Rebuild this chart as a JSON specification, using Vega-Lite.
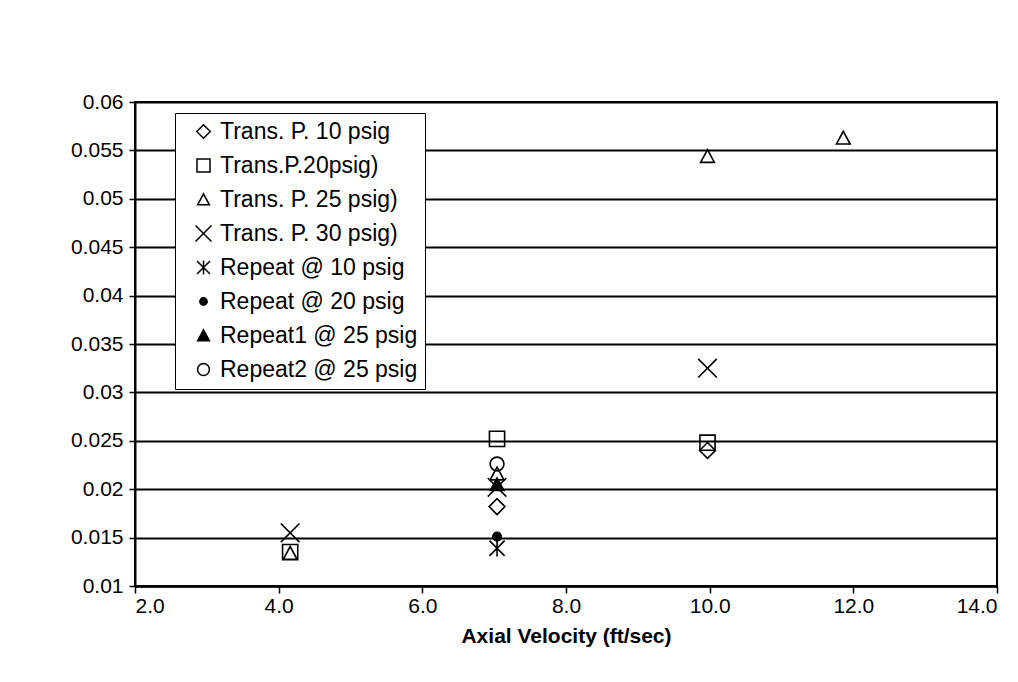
{
  "$schema": "https://vega.github.io/schema/vega-lite/v6.json",
  "width": 862,
  "height": 484,
  "autosize": "none",
  "padding": {"left": 135, "top": 102, "right": 21, "bottom": 96},
  "background": "white",
  "config": {
    "font": "Liberation Sans",
    "view": {"stroke": "black", "strokeWidth": 2}
  },
  "data": {
    "values": [
      {"v": 9.97, "f": 0.0240, "series": "Trans. P. 10 psig"},
      {"v": 7.04, "f": 0.0182, "series": "Trans. P. 10 psig"},
      {"v": 4.16, "f": 0.0135, "series": "Trans.P.20psig)"},
      {"v": 7.04, "f": 0.0252, "series": "Trans.P.20psig)"},
      {"v": 9.97, "f": 0.0248, "series": "Trans.P.20psig)"},
      {"v": 4.16, "f": 0.0134, "series": "Trans. P. 25 psig)"},
      {"v": 7.04, "f": 0.0216, "series": "Trans. P. 25 psig)"},
      {"v": 9.97, "f": 0.0544, "series": "Trans. P. 25 psig)"},
      {"v": 11.86, "f": 0.0563, "series": "Trans. P. 25 psig)"},
      {"v": 4.16, "f": 0.0155, "series": "Trans. P. 30 psig)"},
      {"v": 7.04, "f": 0.0202, "series": "Trans. P. 30 psig)"},
      {"v": 9.97, "f": 0.0325, "series": "Trans. P. 30 psig)"},
      {"v": 7.04, "f": 0.0139, "series": "Repeat @ 10 psig"},
      {"v": 7.04, "f": 0.0151, "series": "Repeat @ 20 psig"},
      {"v": 7.04, "f": 0.0205, "series": "Repeat1 @ 25 psig"},
      {"v": 7.04, "f": 0.0226, "series": "Repeat2 @ 25 psig"}
    ]
  },
  "mark": {"type": "point", "filled": true, "stroke": "black", "strokeWidth": 1.6, "size": 190, "opacity": 1},
  "encoding": {
    "x": {
      "field": "v",
      "type": "quantitative",
      "title": "Axial Velocity (ft/sec)",
      "scale": {"domain": [2, 14], "nice": false, "zero": false},
      "axis": {
        "values": [2, 4, 6, 8, 10, 12, 14],
        "format": ".1f",
        "grid": false,
        "domainColor": "black",
        "domainWidth": 2.5,
        "tickColor": "black",
        "tickWidth": 1.5,
        "tickSize": 7,
        "labelFontSize": 21,
        "labelColor": "black",
        "labelPadding": 2,
        "titleFontSize": 21,
        "titleFontWeight": "bold",
        "titleColor": "black",
        "titlePadding": 9
      }
    },
    "y": {
      "field": "f",
      "type": "quantitative",
      "title": null,
      "scale": {"domain": [0.01, 0.06], "nice": false, "zero": false},
      "axis": {
        "values": [0.01, 0.015, 0.02, 0.025, 0.03, 0.035, 0.04, 0.045, 0.05, 0.055, 0.06],
        "format": "~g",
        "grid": true,
        "gridColor": "black",
        "gridWidth": 2,
        "gridOpacity": 1,
        "domainColor": "black",
        "domainWidth": 2,
        "tickColor": "black",
        "tickWidth": 1.5,
        "tickSize": 6,
        "labelFontSize": 21,
        "labelColor": "black",
        "labelPadding": 6
      }
    },
    "shape": {
      "field": "series",
      "type": "nominal",
      "sort": null,
      "scale": {
        "domain": ["Trans. P. 10 psig", "Trans.P.20psig)", "Trans. P. 25 psig)", "Trans. P. 30 psig)", "Repeat @ 10 psig", "Repeat @ 20 psig", "Repeat1 @ 25 psig", "Repeat2 @ 25 psig"],
        "range": [
          "M-1.15,0L0,-1.15L1.15,0L0,1.15Z",
          "M-1.1,-1.1L1.1,-1.1L1.1,1.1L-1.1,1.1Z",
          "M-1,0.9L0,-0.95L1,0.9Z",
          "M-1.35,-1.35L1.35,1.35M-1.35,1.35L1.35,-1.35",
          "M-1.1,-1.1L1.1,1.1M-1.1,1.1L1.1,-1.1M0,-1.2L0,1.2",
          "M-0.62,0A0.62,0.62,0,1,0,0.62,0A0.62,0.62,0,1,0,-0.62,0Z",
          "M-1,0.9L0,-0.95L1,0.9Z",
          "M-1,0A1,1,0,1,0,1,0A1,1,0,1,0,-1,0Z"
        ]
      },
      "legend": {
        "orient": "none",
        "legendX": 40,
        "legendY": 11,
        "title": null,
        "strokeColor": "black",
        "fillColor": "white",
        "padding": 7,
        "labelFontSize": 23,
        "labelColor": "black",
        "labelLimit": 400,
        "labelOffset": 5,
        "symbolOffset": 10,
        "symbolSize": 140,
        "rowPadding": 10,
        "encode": {
          "symbols": {"update": {"stroke": {"value": "black"}, "strokeWidth": {"value": 1.6}}}
        }
      }
    },
    "fill": {
      "field": "series",
      "type": "nominal",
      "sort": null,
      "scale": {
        "domain": ["Trans. P. 10 psig", "Trans.P.20psig)", "Trans. P. 25 psig)", "Trans. P. 30 psig)", "Repeat @ 10 psig", "Repeat @ 20 psig", "Repeat1 @ 25 psig", "Repeat2 @ 25 psig"],
        "range": ["transparent", "transparent", "transparent", "transparent", "transparent", "black", "black", "transparent"]
      },
      "legend": {
        "orient": "none",
        "legendX": 40,
        "legendY": 11,
        "title": null,
        "strokeColor": "black",
        "fillColor": "white",
        "padding": 7,
        "labelFontSize": 23,
        "labelColor": "black",
        "labelLimit": 400,
        "labelOffset": 5,
        "symbolOffset": 10,
        "symbolSize": 140,
        "rowPadding": 10,
        "encode": {
          "symbols": {"update": {"stroke": {"value": "black"}, "strokeWidth": {"value": 1.6}}}
        }
      }
    }
  }
}
